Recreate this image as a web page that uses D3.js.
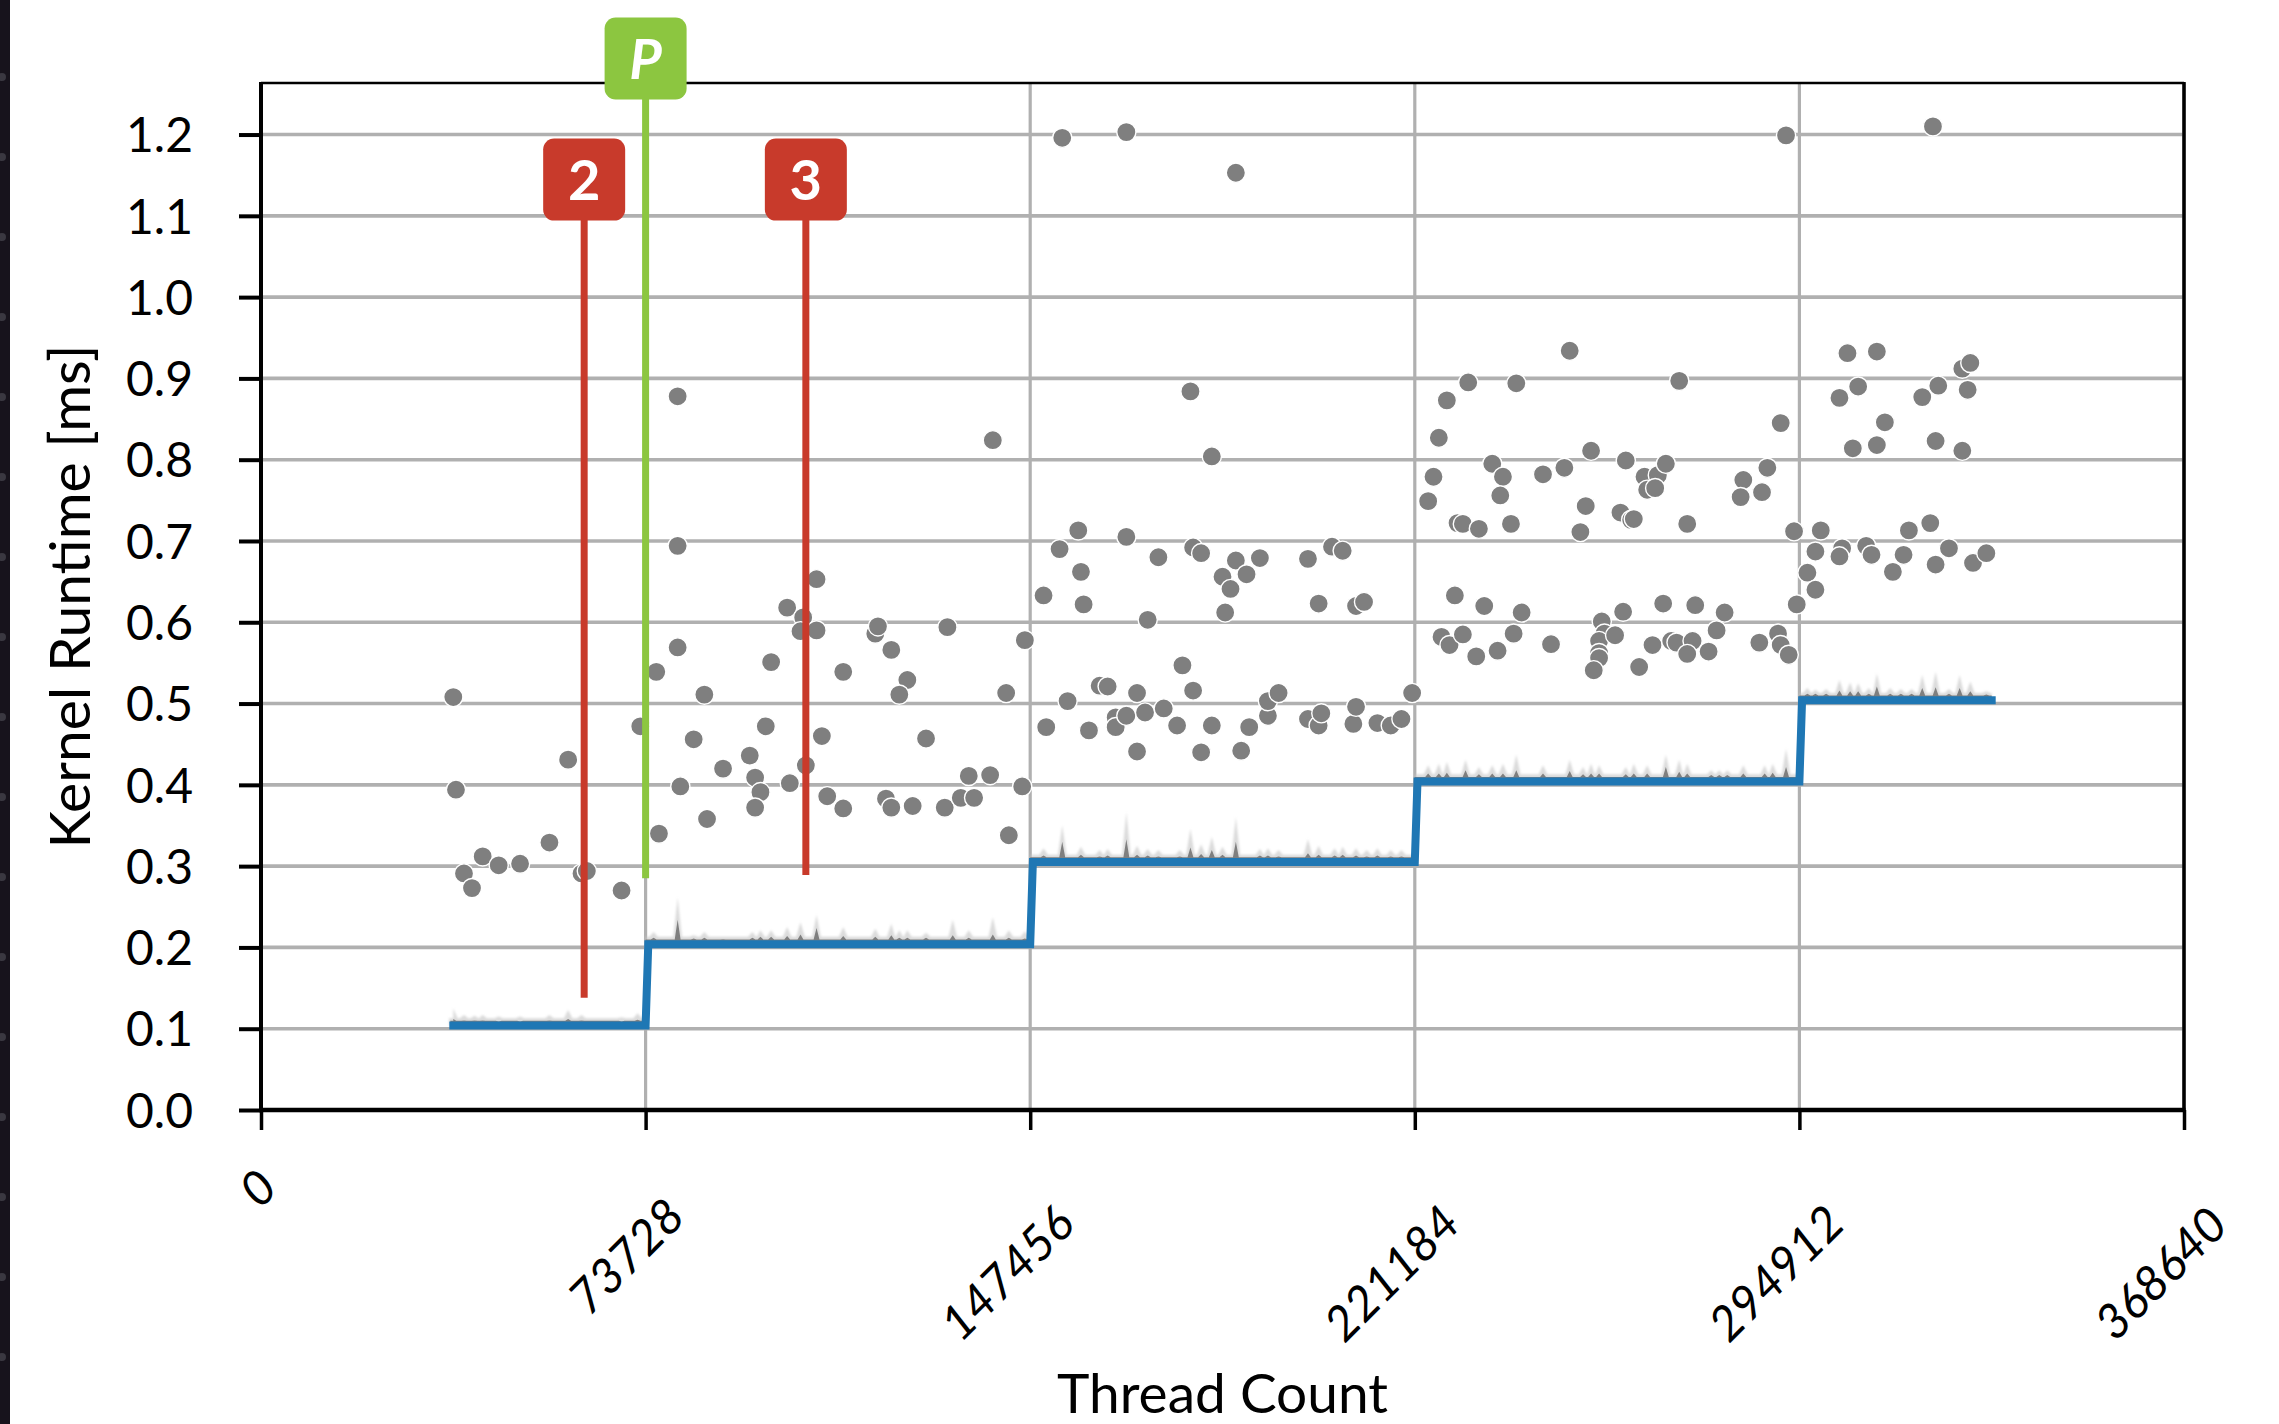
<!DOCTYPE html>
<html>
<head>
<meta charset="utf-8">
<script src="https://cdn.jsdelivr.net/npm/d3@7"></script>
<style>
  html, body { margin: 0; padding: 0; background: #ffffff; }
  svg { display: block; }
  text { font-family: "Lato", "Open Sans", "Liberation Sans", sans-serif; }
</style>
</head>
<body>
<svg id="chart" width="2279" height="1424"></svg>
<script>
// ---- data -------------------------------------------------------------
// Thread counts are stored in blocks of 512 threads.
const BLOCK = 512;

const xTickValues = [0, 73728, 147456, 221184, 294912, 368640];
const yTickValues = [0.0, 0.1, 0.2, 0.3, 0.4, 0.5, 0.6, 0.7, 0.8, 0.9, 1.0, 1.1, 1.2];

// Typical (median) kernel runtime per launch configuration: [block, ms]
const medianRuntime = [
  [72, 0.104], [144, 0.104], [145, 0.204], [288, 0.204], [289, 0.305],
  [432, 0.305], [433, 0.404], [576, 0.404], [577, 0.504], [648, 0.504]
];

// Runtime level of each plateau and its block range
const plateauLevels = [0.104, 0.204, 0.305, 0.404, 0.504];
const plateauStarts = [72, 144, 288, 432, 576];
const plateauEnds   = [144, 288, 432, 576, 648];

// Jitter peaks over the plateaus: [block, mean peak ms, upper band ms]
const jitterPeaks = [
  // 0.1 ms plateau
  [72, 0.112, 0.125], [76, 0.110, 0.117], [80, 0.110, 0.116], [83, 0.110, 0.117],
  [89, 0.109, 0.115], [97, 0.109, 0.115], [108, 0.110, 0.117], [115, 0.112, 0.123],
  [120, 0.110, 0.117], [135, 0.109, 0.114], [141, 0.111, 0.119],
  // 0.2 ms plateau
  [147, 0.212, 0.219], [156, 0.234, 0.261], [162, 0.211, 0.215], [166, 0.212, 0.219],
  [173, 0.210, 0.213], [184, 0.212, 0.219], [187, 0.213, 0.221], [191, 0.213, 0.221],
  [197, 0.214, 0.225], [202, 0.216, 0.231], [208, 0.224, 0.240], [218, 0.214, 0.225],
  [230, 0.213, 0.223], [236, 0.215, 0.229], [239, 0.212, 0.221], [242, 0.212, 0.221],
  [249, 0.212, 0.218], [259, 0.215, 0.234], [265, 0.212, 0.221], [274, 0.216, 0.237],
  [280, 0.212, 0.221], [286, 0.211, 0.220],
  // 0.3 ms plateau
  [293, 0.313, 0.322], [300, 0.330, 0.350], [307, 0.314, 0.324], [314, 0.312, 0.320],
  [317, 0.313, 0.321], [324, 0.333, 0.366], [328, 0.314, 0.325], [332, 0.313, 0.321],
  [336, 0.312, 0.320], [344, 0.312, 0.320], [348, 0.323, 0.346], [352, 0.315, 0.327],
  [356, 0.320, 0.336], [360, 0.314, 0.324], [365, 0.330, 0.360], [374, 0.313, 0.321],
  [377, 0.313, 0.322], [381, 0.312, 0.320], [392, 0.316, 0.333], [396, 0.314, 0.325],
  [402, 0.313, 0.322], [405, 0.314, 0.324], [410, 0.313, 0.322], [414, 0.312, 0.320],
  [418, 0.313, 0.322], [423, 0.312, 0.320], [427, 0.312, 0.320],
  // 0.4 ms plateau
  [437, 0.414, 0.424], [441, 0.414, 0.426], [444, 0.415, 0.428], [451, 0.418, 0.431],
  [456, 0.413, 0.422], [461, 0.414, 0.424], [465, 0.414, 0.426], [470, 0.418, 0.437],
  [480, 0.414, 0.424], [490, 0.417, 0.431], [495, 0.413, 0.422], [498, 0.414, 0.426],
  [501, 0.414, 0.424], [511, 0.413, 0.422], [514, 0.414, 0.426], [519, 0.414, 0.424],
  [526, 0.422, 0.437], [531, 0.416, 0.431], [534, 0.414, 0.426], [543, 0.412, 0.418],
  [546, 0.412, 0.418], [549, 0.412, 0.418], [555, 0.414, 0.424], [563, 0.414, 0.424],
  [566, 0.415, 0.426], [571, 0.422, 0.444],
  // 0.5 ms plateau
  [579, 0.512, 0.519], [582, 0.512, 0.517], [586, 0.512, 0.518], [591, 0.516, 0.529],
  [595, 0.515, 0.526], [598, 0.515, 0.525], [602, 0.512, 0.519], [605, 0.521, 0.537],
  [610, 0.512, 0.519], [614, 0.512, 0.518], [618, 0.512, 0.518], [622, 0.519, 0.535],
  [627, 0.520, 0.539], [632, 0.512, 0.518], [636, 0.519, 0.535], [640, 0.515, 0.527],
  [646, 0.511, 0.515]
];

// Individual slow runs: [block, ms]
const slowRuns = [
  [72, 0.508], [73, 0.394], [76, 0.291], [79, 0.273], [83, 0.312], [89, 0.301],
  [97, 0.303], [108, 0.329], [115, 0.431], [120, 0.291], [122, 0.294], [135, 0.270],
  [142, 0.472],
  [148, 0.539], [149, 0.340], [156, 0.878], [156, 0.694], [156, 0.569], [157, 0.398],
  [162, 0.456], [166, 0.511], [167, 0.358], [173, 0.420], [183, 0.436], [185, 0.409],
  [187, 0.391], [185, 0.372], [189, 0.472], [191, 0.551], [197, 0.618], [198, 0.402],
  [203, 0.606], [202, 0.589], [204, 0.424], [208, 0.653], [208, 0.590], [210, 0.460],
  [212, 0.386], [218, 0.539], [218, 0.371], [230, 0.586], [231, 0.595], [236, 0.566],
  [242, 0.529], [239, 0.511], [234, 0.383], [236, 0.372], [244, 0.374], [249, 0.457],
  [256, 0.372], [257, 0.594], [262, 0.384], [265, 0.411], [267, 0.384], [273, 0.412],
  [274, 0.824], [279, 0.513], [280, 0.338], [285, 0.398], [286, 0.578],
  [293, 0.633], [294, 0.471], [299, 0.690], [300, 1.196], [302, 0.503], [306, 0.713],
  [307, 0.662], [308, 0.622], [310, 0.467], [314, 0.522], [317, 0.521], [320, 0.483],
  [320, 0.471], [324, 0.485], [324, 0.705], [324, 1.203], [328, 0.513], [328, 0.441],
  [331, 0.489], [332, 0.603], [336, 0.680], [338, 0.494], [343, 0.473], [345, 0.547],
  [348, 0.884], [349, 0.692], [349, 0.516], [352, 0.685], [352, 0.440], [356, 0.804],
  [356, 0.473], [360, 0.656], [361, 0.612], [363, 0.641], [365, 0.676], [365, 1.153],
  [367, 0.442], [369, 0.659], [370, 0.471], [374, 0.679], [377, 0.485], [377, 0.503],
  [381, 0.513], [392, 0.678], [392, 0.481], [396, 0.623], [396, 0.473], [397, 0.488],
  [401, 0.693], [405, 0.688], [409, 0.475], [410, 0.496], [410, 0.620], [413, 0.625],
  [418, 0.476], [423, 0.473], [427, 0.481], [431, 0.513],
  [437, 0.749], [439, 0.779], [441, 0.827], [444, 0.873], [447, 0.633], [442, 0.582],
  [445, 0.572], [448, 0.722], [452, 0.895], [470, 0.894], [490, 0.934], [531, 0.897],
  [569, 0.845], [461, 0.795], [465, 0.779], [464, 0.756], [450, 0.721], [456, 0.715],
  [468, 0.721], [480, 0.782], [488, 0.790], [498, 0.811], [496, 0.743], [494, 0.711],
  [511, 0.799], [509, 0.735], [513, 0.726], [514, 0.727], [518, 0.779], [523, 0.781],
  [526, 0.795], [519, 0.763], [522, 0.765], [534, 0.721], [555, 0.775], [554, 0.754],
  [564, 0.790], [562, 0.760], [574, 0.712],
  [458, 0.620], [472, 0.612], [450, 0.585], [455, 0.558], [463, 0.565], [469, 0.586],
  [483, 0.573], [502, 0.601], [503, 0.586], [501, 0.577], [507, 0.584], [501, 0.562],
  [501, 0.556], [499, 0.541], [510, 0.613], [516, 0.545], [521, 0.572], [525, 0.623],
  [528, 0.577], [530, 0.575], [536, 0.577], [534, 0.561], [537, 0.621], [542, 0.564],
  [545, 0.590], [548, 0.612], [561, 0.575], [568, 0.586], [569, 0.572], [572, 0.560],
  [575, 0.622],
  [582, 0.687], [579, 0.661], [582, 0.640], [584, 0.713], [571, 1.199], [626, 1.210],
  [594, 0.931], [605, 0.933], [598, 0.890], [591, 0.876], [608, 0.846], [596, 0.814],
  [605, 0.818], [622, 0.877], [628, 0.891], [637, 0.912], [640, 0.919], [639, 0.886],
  [627, 0.823], [637, 0.811], [592, 0.691], [591, 0.681], [601, 0.694], [603, 0.683],
  [611, 0.662], [615, 0.683], [617, 0.713], [625, 0.722], [627, 0.671], [632, 0.691],
  [641, 0.673], [646, 0.685]
];

// Annotated configurations
const markerLabels   = ["2", "P", "3"];
const markerBlocks   = [121, 144, 204];
const markerColors   = ["#c83a2b", "#8cc640", "#c83a2b"];
const markerItalic   = [false, true, false];
const markerLineLow  = [0.138, 0.285, 0.289];
const markerBoxTop   = [1.195, 1.344, 1.195];

// ---- layout -----------------------------------------------------------
const svg = d3.select("#chart");
const W = 2279, H = 1424;
const M = { left: 261, right: 2184, top: 83, bottom: 1110 };

const x = d3.scaleLinear().domain([0, 368640]).range([M.left, M.right]);
const y = d3.scaleLinear().domain([0, 1.2634]).range([M.bottom, M.top]);
const xb = b => x(b * BLOCK);

svg.append("rect").attr("width", W).attr("height", H).attr("fill", "#ffffff");

// dark window edge on the left
svg.append("rect").attr("x", 0).attr("y", 0).attr("width", 10).attr("height", H)
  .attr("fill", "#17131c");
svg.append("g").selectAll("circle")
  .data(d3.range(77, H, 80))
  .join("circle")
  .attr("cx", 2).attr("cy", d => d).attr("r", 4)
  .attr("fill", "#3a3841");

// ---- grid -------------------------------------------------------------
const grid = svg.append("g").attr("stroke", "#b0b0b0").attr("stroke-width", 3.6);
grid.selectAll("line.h").data(yTickValues).join("line").attr("class", "h")
  .attr("x1", M.left).attr("x2", M.right)
  .attr("y1", d => y(d)).attr("y2", d => y(d));
grid.selectAll("line.v").data(xTickValues).join("line").attr("class", "v")
  .attr("y1", M.top).attr("y2", M.bottom)
  .attr("x1", d => x(d)).attr("x2", d => x(d))
  .attr("stroke-width", 3.2);

// ---- jitter band over each plateau ------------------------------------
const defs = svg.append("defs");
defs.append("filter").attr("id", "soft")
  .append("feGaussianBlur").attr("stdDeviation", 0.9);

function plateauProfile(i, field, lift, halfWidth) {
  const level = plateauLevels[i];
  const s = plateauStarts[i], e = plateauEnds[i];
  const pts = [[s, level + lift]];
  jitterPeaks.filter(p => p[0] >= s && p[0] <= e).forEach(p => {
    pts.push([p[0] - halfWidth, level + lift]);
    pts.push([p[0], p[field]]);
    pts.push([p[0] + halfWidth, level + lift]);
  });
  pts.push([e, level + lift]);
  pts.sort((a, b) => a[0] - b[0]);
  return { level, pts };
}

const bandArea = d3.area()
  .x(d => xb(d[0]))
  .y1(d => y(d[1]))
  .curve(d3.curveLinear);

const bands = svg.append("g");
plateauLevels.forEach((_, i) => {
  const light = plateauProfile(i, 2, 0.009, 1.6);
  bands.append("path")
    .datum(light.pts)
    .attr("d", bandArea.y0(y(light.level)))
    .attr("fill", "#c8c8c8").attr("fill-opacity", 0.65)
    .attr("filter", "url(#soft)");
});
plateauLevels.forEach((_, i) => {
  const dark = plateauProfile(i, 1, 0.0058, 1.1);
  bands.append("path")
    .datum(dark.pts)
    .attr("d", bandArea.y0(y(dark.level)))
    .attr("fill", "#7f7f7f");
});

// ---- median runtime step line -----------------------------------------
svg.append("path")
  .datum(medianRuntime)
  .attr("d", d3.line().x(d => xb(d[0])).y(d => y(d[1])))
  .attr("fill", "none")
  .attr("stroke", "#1f77b4")
  .attr("stroke-width", 8)
  .attr("stroke-linecap", "square")
  .attr("stroke-linejoin", "miter");

// ---- slow runs ----------------------------------------------------------
svg.append("g").selectAll("circle")
  .data(slowRuns)
  .join("circle")
  .attr("cx", d => xb(d[0]))
  .attr("cy", d => y(d[1]))
  .attr("r", 9.6)
  .attr("fill", "#7f7f7f")
  .attr("stroke", "#ffffff")
  .attr("stroke-width", 1.4);

// ---- axes -------------------------------------------------------------
const yAxis = d3.axisLeft(y)
  .tickValues(yTickValues)
  .tickFormat(d3.format(".1f"))
  .tickSize(22)
  .tickPadding(46);
const gy = svg.append("g").attr("transform", `translate(${M.left},0)`).call(yAxis);
gy.select(".domain").remove();
gy.selectAll(".tick line").attr("stroke", "#000").attr("stroke-width", 4);
gy.selectAll(".tick text")
  .attr("fill", "#000")
  .attr("font-size", 48)
  .attr("font-family", "Lato, 'Open Sans', sans-serif")
  .attr("dy", "0.36em");

const xAxis = d3.axisBottom(x)
  .tickValues(xTickValues)
  .tickFormat(d3.format("d"))
  .tickSize(20);
const gx = svg.append("g").attr("transform", `translate(0,${M.bottom})`).call(xAxis);
gx.select(".domain").remove();
gx.selectAll(".tick line").attr("stroke", "#000").attr("stroke-width", 3.5);
gx.selectAll(".tick text")
  .attr("fill", "#000")
  .attr("font-size", 48)
  .attr("font-style", "italic")
  .attr("font-family", "Lato, 'Open Sans', sans-serif")
  .attr("text-anchor", "middle")
  .attr("x", 0).attr("y", 0)
  .attr("dy", "0.36em")
  .attr("transform", function (d) {
    const n = String(d).length;
    const cx = -4 - 4 * (n - 1);
    const cy = 78 + 17 * (n - 1);
    return `translate(${cx},${cy}) rotate(-45)`;
  });

// frame
const frame = svg.append("g").attr("stroke", "#000").attr("fill", "none");
frame.append("line").attr("x1", M.left).attr("x2", M.right).attr("y1", M.top).attr("y2", M.top)
  .attr("stroke-width", 2.6);
frame.append("line").attr("x1", M.right).attr("x2", M.right).attr("y1", M.top - 1).attr("y2", M.bottom)
  .attr("stroke-width", 3.5);
frame.append("line").attr("x1", M.left).attr("x2", M.left).attr("y1", M.top - 1).attr("y2", M.bottom + 2)
  .attr("stroke-width", 4);
frame.append("line").attr("x1", M.left - 2).attr("x2", M.right + 1.5).attr("y1", M.bottom).attr("y2", M.bottom)
  .attr("stroke-width", 4.5);

// axis titles
svg.append("text")
  .attr("x", (M.left + M.right) / 2).attr("y", 1413)
  .attr("text-anchor", "middle")
  .attr("font-size", 55)
  .attr("fill", "#000")
  .text("Thread Count");

svg.append("text")
  .attr("transform", `translate(90,${(M.top + M.bottom) / 2}) rotate(-90)`)
  .attr("text-anchor", "middle")
  .attr("font-size", 57)
  .attr("fill", "#000")
  .text("Kernel Runtime [ms]");

// ---- annotation markers -----------------------------------------------
const BOX = 82;
const markers = svg.append("g");
markerLabels.forEach((label, i) => {
  const cx = xb(markerBlocks[i]);
  const top = y(markerBoxTop[i]);
  markers.append("line")
    .attr("x1", cx).attr("x2", cx)
    .attr("y1", top + BOX - 2).attr("y2", y(markerLineLow[i]))
    .attr("stroke", markerColors[i]).attr("stroke-width", 7);
  markers.append("rect")
    .attr("x", cx - BOX / 2).attr("y", top)
    .attr("width", BOX).attr("height", BOX)
    .attr("rx", 11).attr("ry", 11)
    .attr("fill", markerColors[i]);
  markers.append("text")
    .attr("x", cx).attr("y", top + BOX / 2)
    .attr("dy", "0.36em")
    .attr("text-anchor", "middle")
    .attr("font-size", 56)
    .attr("font-weight", 700)
    .attr("font-style", markerItalic[i] ? "italic" : "normal")
    .attr("fill", "#ffffff")
    .text(label);
});
</script>
</body>
</html>
